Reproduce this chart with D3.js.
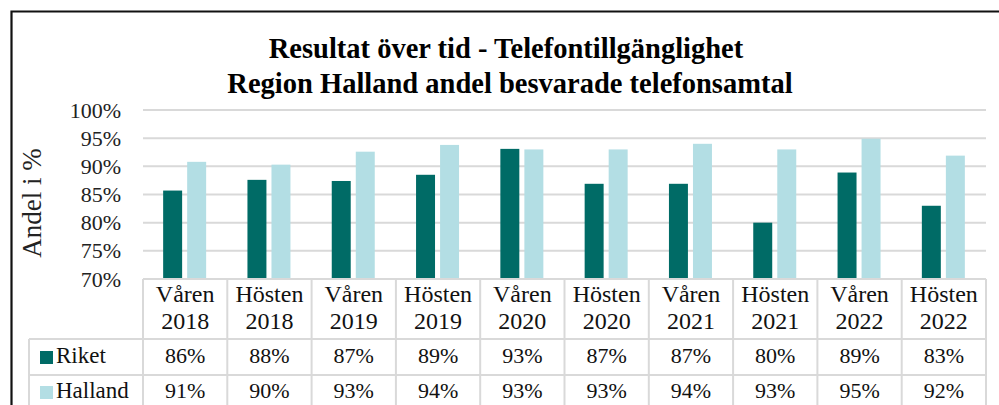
<!DOCTYPE html>
<html>
<head>
<meta charset="utf-8">
<script src="https://cdn.jsdelivr.net/npm/d3@7"></script>
<style>
  body { margin: 0; background: #fff; }
</style>
</head>
<body>
<div id="chart"></div>
<script>
// data
const periods = ["Våren 2018", "Hösten 2018", "Våren 2019", "Hösten 2019", "Våren 2020",
                 "Hösten 2020", "Våren 2021", "Hösten 2021", "Våren 2022", "Hösten 2022"];
const seriesNames = ["Riket", "Halland"];
const riket = [0.857, 0.876, 0.874, 0.885, 0.931, 0.869, 0.869, 0.800, 0.889, 0.830];
const halland = [0.908, 0.903, 0.926, 0.938, 0.930, 0.930, 0.940, 0.930, 0.949, 0.919];
const riketLabels = ["86%", "88%", "87%", "89%", "93%", "87%", "87%", "80%", "89%", "83%"];
const hallandLabels = ["91%", "90%", "93%", "94%", "93%", "93%", "94%", "93%", "95%", "92%"];
const yTicks = [0.70, 0.75, 0.80, 0.85, 0.90, 0.95, 1.00];
const colors = ["#006B66", "#B3DEE4"];

const W = 999, H = 405;
const plot = { left: 143, right: 986, top: 110, bottom: 279 };
const FONT = "Liberation Serif";

const svg = d3.select("#chart").append("svg")
    .attr("width", W)
    .attr("height", H);

// outer frame (only top and left edge visible in the crop)
svg.append("path")
    .attr("d", `M11.5,${H} L11.5,11.5 L${W},11.5`)
    .attr("fill", "none")
    .attr("stroke", "#111")
    .attr("stroke-width", 2.2);

// title
const title = svg.append("text")
    .attr("text-anchor", "middle")
    .attr("font-family", FONT)
    .attr("font-weight", "bold")
    .attr("font-size", "28.5px")
    .attr("fill", "#000");
title.append("tspan").attr("x", 506).attr("y", 58).text("Resultat över tid - Telefontillgänglighet");
title.append("tspan").attr("x", 510).attr("y", 93).text("Region Halland andel besvarade telefonsamtal");

// scales
const x = d3.scaleBand()
    .domain(periods)
    .range([plot.left, plot.right]);

const xInner = d3.scaleBand()
    .domain(seriesNames)
    .range([-22, 21])
    .paddingInner(0.21);

const y = d3.scaleLinear()
    .domain([0.70, 1.00])
    .range([plot.bottom, plot.top]);

// gridlines
svg.append("g")
    .selectAll("line")
    .data(yTicks.filter(t => t > 0.70))
    .join("line")
    .attr("x1", plot.left)
    .attr("x2", plot.right)
    .attr("y1", d => y(d))
    .attr("y2", d => y(d))
    .attr("stroke", "#D9D9D9")
    .attr("stroke-width", 2);

// y axis labels
const yAxis = d3.axisLeft(y)
    .tickValues(yTicks)
    .tickFormat(d3.format(".0%"))
    .tickSize(0)
    .tickPadding(0);

const yg = svg.append("g")
    .attr("transform", `translate(121,0)`)
    .call(yAxis)
    .attr("font-family", FONT)
    .attr("font-size", "22px");
yg.select(".domain").remove();
yg.selectAll("text")
    .attr("fill", "#222")
    .attr("dy", "0.32em");

// y axis title
svg.append("text")
    .attr("transform", "translate(41,203) rotate(-90)")
    .attr("text-anchor", "middle")
    .attr("font-family", FONT)
    .attr("font-size", "27px")
    .attr("fill", "#222")
    .text("Andel i %");

// bars
const rows = periods.map((p, i) => ({ period: p, values: [riket[i], halland[i]] }));

const groups = svg.append("g")
    .selectAll("g")
    .data(rows)
    .join("g")
    .attr("transform", d => `translate(${x(d.period) + x.bandwidth() / 2},0)`);

groups.selectAll("rect")
    .data(d => d.values.map((v, k) => ({ name: seriesNames[k], value: v, k })))
    .join("rect")
    .attr("x", d => xInner(d.name))
    .attr("width", xInner.bandwidth())
    .attr("y", d => y(d.value))
    .attr("height", d => y(0.70) - y(d.value))
    .attr("fill", d => colors[d.k]);

// data table
const rowTop = [279, 339, 375, 411];
const legendLeft = 29;
const tbl = svg.append("g")
    .attr("stroke", "#D9D9D9")
    .attr("stroke-width", 2);

tbl.append("line").attr("x1", plot.left).attr("x2", plot.right).attr("y1", rowTop[0]).attr("y2", rowTop[0]);
[rowTop[1], rowTop[2]].forEach(yy => {
    tbl.append("line").attr("x1", legendLeft).attr("x2", plot.right).attr("y1", yy).attr("y2", yy);
});
tbl.append("line").attr("x1", legendLeft).attr("x2", legendLeft).attr("y1", rowTop[1]).attr("y2", H);
tbl.selectAll(".vline")
    .data(periods.concat(["end"]))
    .join("line")
    .attr("class", "vline")
    .attr("x1", (d, i) => plot.left + i * x.step())
    .attr("x2", (d, i) => plot.left + i * x.step())
    .attr("y1", rowTop[0])
    .attr("y2", H);

// header cells
const head = svg.append("g")
    .selectAll("text")
    .data(periods)
    .join("text")
    .attr("text-anchor", "middle")
    .attr("font-family", FONT)
    .attr("font-size", "24px")
    .attr("fill", "#111");
head.append("tspan")
    .attr("x", d => x(d) + x.bandwidth() / 2)
    .attr("y", 302)
    .text(d => d.split(" ")[0]);
head.append("tspan")
    .attr("x", d => x(d) + x.bandwidth() / 2)
    .attr("y", 329)
    .text(d => d.split(" ")[1]);

// value rows
const tableRows = [riketLabels, hallandLabels];
const baselines = [363, 398];
tableRows.forEach((labels, r) => {
    svg.append("g")
        .selectAll("text")
        .data(labels)
        .join("text")
        .attr("x", (d, i) => x(periods[i]) + x.bandwidth() / 2)
        .attr("y", baselines[r])
        .attr("text-anchor", "middle")
        .attr("font-family", FONT)
        .attr("font-size", "22px")
        .attr("fill", "#111")
        .text(d => d);

    svg.append("rect")
        .attr("x", 40)
        .attr("y", baselines[r] - 12)
        .attr("width", 13)
        .attr("height", 13)
        .attr("fill", colors[r]);

    svg.append("text")
        .attr("x", 56)
        .attr("y", baselines[r])
        .attr("font-family", FONT)
        .attr("font-size", "23px")
        .attr("fill", "#111")
        .text(seriesNames[r]);
});
</script>
</body>
</html>
